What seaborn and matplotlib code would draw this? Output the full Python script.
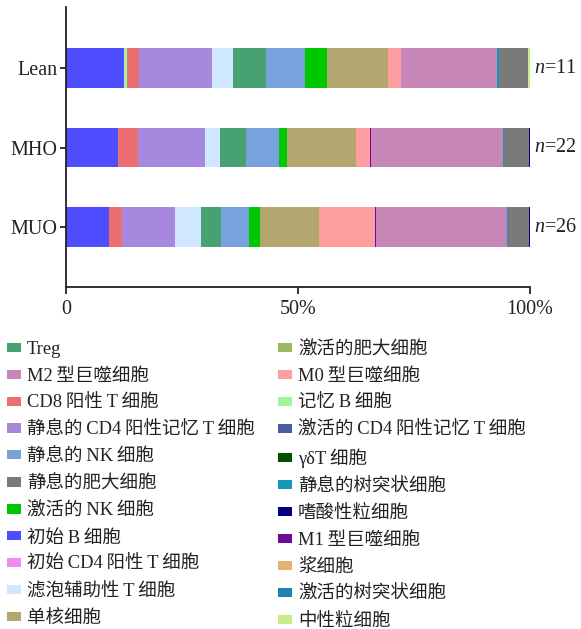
import numpy as np
import pandas as pd
import matplotlib
matplotlib.use("Agg")
import matplotlib.pyplot as plt
import seaborn as sns
from matplotlib.patches import Patch

# ---- data -------------------------------------------------------------
groups = ["Lean", "MHO", "MUO"]
group_n = [11, 22, 26]

S = "\u2009"  # thin space between Latin and CJK parts of a label

# immune cell types in stacking order (left to right)
cell_types = [
    f"初始{S}B{S}细胞", f"记忆{S}B{S}细胞", "浆细胞", f"CD8{S}阳性{S}T{S}细胞",
    f"静息的{S}CD4{S}阳性记忆{S}T{S}细胞", f"初始{S}CD4{S}阳性{S}T{S}细胞",
    f"激活的{S}CD4{S}阳性记忆{S}T{S}细胞",
    f"滤泡辅助性{S}T{S}细胞", "Treg", f"γδT{S}细胞", f"静息的{S}NK{S}细胞", f"激活的{S}NK{S}细胞",
    "单核细胞", f"M0{S}型巨噬细胞", f"M1{S}型巨噬细胞", f"M2{S}型巨噬细胞",
    "静息的树突状细胞", "激活的树突状细胞", "静息的肥大细胞", "激活的肥大细胞",
    "中性粒细胞", "嗜酸性粒细胞",
]

# relative proportion (%) of each cell type per group
lean_pct = [12.5, 0.7, 0.0, 2.6, 15.7, 0.0, 0.0, 4.5, 7.2, 0.0, 8.4, 4.6,
            13.1, 2.8, 0.0, 20.8, 0.4, 0.0, 6.3, 0.0, 0.4, 0.0]
mho_pct = [11.3, 0.0, 0.0, 4.2, 14.5, 0.0, 0.0, 3.2, 5.6, 0.0, 7.0, 1.9,
           14.7, 3.2, 0.2, 28.3, 0.4, 0.0, 5.2, 0.0, 0.0, 0.3]
muo_pct = [9.3, 0.0, 0.0, 2.7, 11.4, 0.0, 0.0, 5.7, 4.2, 0.0, 6.2, 2.4,
           12.6, 12.0, 0.3, 28.2, 0.2, 0.0, 4.5, 0.0, 0.0, 0.3]

palette = ["#4E4EFF", "#A0F5A0", "#E8B070", "#EB6E72", "#A688DC", "#F08CF0",
           "#4A5BA0", "#CFE8FF", "#48A172", "#005000", "#78A2DC", "#00C800",
           "#B3A770", "#FF9E9E", "#70089A", "#C687B8", "#1598BA", "#2080B0",
           "#7A7A7A", "#9AB860", "#C6EC8C", "#000080"]
cell_colors = dict(zip(cell_types, palette))

# legend layout: two columns
legend_left = [cell_types[i] for i in (8, 15, 3, 4, 10, 18, 11, 0, 5, 7, 12)]
legend_right = [cell_types[i] for i in (19, 13, 1, 6, 9, 16, 21, 14, 2, 17, 20)]

# ---- style ------------------------------------------------------------
sns.set_style("ticks")
fonts = ["Liberation Serif", "Noto Sans CJK SC", "DejaVu Sans"]
plt.rcParams["font.family"] = fonts
plt.rcParams["mathtext.fontset"] = "custom"
plt.rcParams["mathtext.it"] = "Liberation Serif:italic"
plt.rcParams["mathtext.rm"] = "Liberation Serif"
ink = "#222222"

W, H = 581, 629
fig = plt.figure(figsize=(W / 100, H / 100), dpi=100)
ax = fig.add_axes([66 / W, 1 - 287 / H, (530 - 66) / W, (287 - 7) / H])

# ---- stacked horizontal bars -----------------------------------------
pct = pd.DataFrame({"Lean": lean_pct, "MHO": mho_pct, "MUO": muo_pct}, index=cell_types)
cum = pct.cumsum(axis=0)

# draw cumulative totals from the outermost segment inwards
for ct in reversed(cell_types):
    df = pd.DataFrame({"group": groups, "value": [cum.loc[ct, g] for g in groups]})
    sns.barplot(data=df, x="value", y="group", order=groups, orient="h",
                color=cell_colors[ct], saturation=1, width=0.5, linewidth=0,
                errorbar=None, ax=ax)

ax.set_xlim(0, 100)
ax.set_ylim(2.755, -0.77)
ax.set_xticks([0, 50, 100])
ax.set_xticklabels(["0", "50%", "100%"])
ax.set_xlabel("")
ax.set_ylabel("")
sns.despine(ax=ax)
for side in ("left", "bottom"):
    ax.spines[side].set_linewidth(1.3)
    ax.spines[side].set_color(ink)
ax.tick_params(axis="x", length=5, width=1.3, color=ink, labelsize=14.5,
               labelcolor=ink, pad=4)
ax.tick_params(axis="y", length=4, width=1.3, color=ink, labelsize=14.5,
               labelcolor=ink, pad=2)

# sample sizes at the end of each bar
for i, n in enumerate(group_n):
    ax.annotate(f"$n$=" + f"{n}", xy=(100, i), xytext=(3, 0), textcoords="offset points",
                ha="left", va="center", fontsize=14.5, color=ink, annotation_clip=False)

# ---- legend (two columns) --------------------------------------------
def make_handles(names):
    return [Patch(facecolor=cell_colors[n], edgecolor="none", label=n) for n in names]

common = dict(loc="upper left", frameon=False, fontsize=13.3, handlelength=0.75,
              handleheight=0.38, handletextpad=0.33, labelspacing=0.53, borderpad=0,
              borderaxespad=0, labelcolor=ink)
fig.legend(handles=make_handles(legend_left), bbox_to_anchor=(7 / W, 1 - 341 / H), **common)
fig.legend(handles=make_handles(legend_right), bbox_to_anchor=(278 / W, 1 - 341 / H), **common)

fig.savefig("out.png", dpi=100)
